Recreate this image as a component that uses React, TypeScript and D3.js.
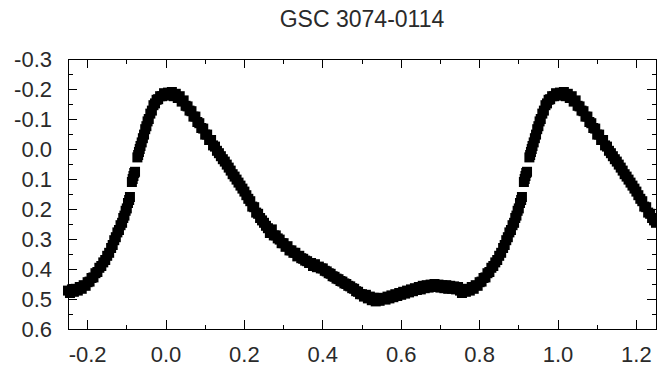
import * as d3 from "d3";

const width = 657;
const height = 369;
const margin = { top: 59, right: 1, bottom: 40, left: 68 };

const title = "GSC 3074-0114";

// one folded cycle: [phase, magnitude]
const maximumBranch: [number, number][] = [
  [0.0, -0.18], [0.005, -0.188], [0.01, -0.178], [0.015, -0.19], [0.02, -0.176],
  [0.025, -0.184], [0.03, -0.17], [0.035, -0.176], [0.04, -0.158], [0.045, -0.162],
  [0.05, -0.144], [0.055, -0.142], [0.06, -0.128], [0.065, -0.126], [0.07, -0.108],
  [0.075, -0.108], [0.08, -0.09], [0.085, -0.086], [0.09, -0.07], [0.095, -0.068],
  [0.1, -0.048], [0.105, -0.048], [0.11, -0.03], [0.115, -0.03], [0.12, -0.012],
  [0.125, -0.008], [0.13, 0.006], [0.135, 0.014], [0.14, 0.024], [0.145, 0.034],
  [0.15, 0.042], [0.155, 0.052], [0.16, 0.062], [0.165, 0.072], [0.17, 0.084],
  [0.175, 0.092], [0.18, 0.102], [0.185, 0.112], [0.19, 0.122], [0.195, 0.132],
  [0.2, 0.142], [0.205, 0.154], [0.21, 0.166], [0.215, 0.174], [0.22, 0.192],
  [0.225, 0.194], [0.23, 0.212], [0.235, 0.216], [0.24, 0.23], [0.245, 0.238],
];

const declineBranch: [number, number][] = [
  [0.25, 0.246], [0.255, 0.256], [0.26, 0.264], [0.265, 0.28], [0.27, 0.268],
  [0.275, 0.288], [0.28, 0.288], [0.285, 0.298], [0.29, 0.302], [0.295, 0.314],
  [0.3, 0.314], [0.305, 0.326], [0.31, 0.324], [0.315, 0.338], [0.32, 0.338],
  [0.325, 0.346], [0.33, 0.346], [0.335, 0.358], [0.34, 0.356], [0.345, 0.364],
  [0.35, 0.366], [0.355, 0.372], [0.36, 0.374], [0.365, 0.38], [0.37, 0.38],
  [0.375, 0.39], [0.38, 0.384], [0.385, 0.394], [0.39, 0.392], [0.395, 0.398],
  [0.4, 0.398], [0.405, 0.406], [0.41, 0.408], [0.415, 0.414], [0.42, 0.416],
  [0.425, 0.424], [0.43, 0.426], [0.435, 0.432], [0.44, 0.434], [0.445, 0.44],
  [0.45, 0.442], [0.455, 0.448], [0.46, 0.45], [0.465, 0.456], [0.47, 0.458],
  [0.475, 0.464], [0.48, 0.466], [0.485, 0.474], [0.49, 0.476], [0.495, 0.484],
  [0.5, 0.484], [0.505, 0.492], [0.51, 0.486], [0.515, 0.498], [0.52, 0.492],
];

const minimumBranch: [number, number][] = [
  [0.525, 0.504], [0.53, 0.496], [0.535, 0.508], [0.54, 0.496], [0.545, 0.506],
  [0.55, 0.498], [0.555, 0.498], [0.56, 0.502], [0.565, 0.492], [0.57, 0.498],
  [0.575, 0.488], [0.58, 0.494], [0.585, 0.484], [0.59, 0.49], [0.595, 0.48],
  [0.6, 0.486], [0.605, 0.476], [0.61, 0.482], [0.615, 0.472], [0.62, 0.478],
  [0.625, 0.468], [0.63, 0.474], [0.635, 0.464], [0.64, 0.47], [0.645, 0.46],
  [0.65, 0.468], [0.655, 0.456], [0.66, 0.464], [0.665, 0.454], [0.67, 0.462],
  [0.675, 0.452], [0.68, 0.46], [0.685, 0.45], [0.69, 0.46], [0.695, 0.452],
  [0.7, 0.462], [0.705, 0.454], [0.71, 0.464], [0.715, 0.454], [0.72, 0.466],
  [0.725, 0.456], [0.73, 0.466], [0.735, 0.458], [0.74, 0.468], [0.745, 0.46],
  [0.75, 0.472], [0.755, 0.48], [0.76, 0.468], [0.765, 0.476], [0.77, 0.466],
  [0.775, 0.472], [0.78, 0.46], [0.785, 0.466], [0.79, 0.454], [0.795, 0.456],
  [0.8, 0.444],
];

const risingBranch: [number, number][] = [
  [0.805, 0.442], [0.81, 0.43], [0.815, 0.428], [0.82, 0.414], [0.825, 0.41],
  [0.83, 0.396], [0.835, 0.39], [0.84, 0.378], [0.845, 0.37], [0.85, 0.356],
  [0.855, 0.346], [0.86, 0.33], [0.864, 0.32], [0.868, 0.304], [0.872, 0.294],
  [0.876, 0.278], [0.88, 0.27], [0.884, 0.254], [0.888, 0.246], [0.891, 0.23],
  [0.894, 0.222], [0.897, 0.206], [0.9, 0.198], [0.903, 0.18], [0.906, 0.17],
  [0.908, 0.16], [0.913, 0.11], [0.915, 0.1], [0.917, 0.09], [0.919, 0.08],
  [0.921, 0.076], [0.927, 0.028], [0.929, 0.02], [0.931, 0.01], [0.933, 0.0],
  [0.935, -0.01], [0.938, -0.022], [0.941, -0.036], [0.944, -0.048], [0.947, -0.066],
  [0.95, -0.076], [0.953, -0.092], [0.956, -0.1], [0.96, -0.118], [0.964, -0.128],
  [0.968, -0.146], [0.972, -0.152], [0.976, -0.164], [0.98, -0.166], [0.985, -0.176],
  [0.99, -0.176], [0.995, -0.186],
];

const xMajorTicks = [-0.2, 0.0, 0.2, 0.4, 0.6, 0.8, 1.0, 1.2];
const xMinorTicks = [-0.1, 0.1, 0.3, 0.5, 0.7, 0.9, 1.1];
const yMajorTicks = [-0.3, -0.2, -0.1, 0.0, 0.1, 0.2, 0.3, 0.4, 0.5, 0.6];
const yMinorTicks = [-0.25, -0.15, -0.05, 0.05, 0.15, 0.25, 0.35, 0.45, 0.55];

const phaseDomain: [number, number] = [-0.25, 1.25];
const magDomain: [number, number] = [-0.3, 0.6];

export default function App() {
  const x = d3
    .scaleLinear()
    .domain(phaseDomain)
    .range([margin.left, width - margin.right]);
  const y = d3
    .scaleLinear()
    .domain(magDomain)
    .range([margin.top, height - margin.bottom]);

  const cycle = [...maximumBranch, ...declineBranch, ...minimumBranch, ...risingBranch];
  // phase plot: every observation shown at phase-1, phase, phase+1 inside the window
  const points = cycle.flatMap(([p, m]) =>
    [p - 1, p, p + 1]
      .filter((q) => q >= phaseDomain[0] && q <= phaseDomain[1])
      .map((q) => ({ phase: q, mag: m })),
  );

  const x0 = margin.left;
  const x1 = width - margin.right;
  const y0 = margin.top;
  const y1 = height - margin.bottom;
  const major = 9;
  const minor = 4.5;
  const size = 10;
  // plain hyphen minus, like the original plot
  const fmt = (v: number) => d3.format(".1f")(v).replace("\u2212", "-");
  const fontFamily = "'Liberation Sans', Arial, Helvetica, sans-serif";

  return (
    <svg
      width={width}
      height={height}
      style={{ position: "absolute", left: 0, top: 0, background: "#fff" }}
      fontFamily={fontFamily}
    >
      <rect width={width} height={height} fill="#fff" />
      <text x={(x0 + x1) / 2} y={27} textAnchor="middle" fontSize={23} fill="#2a2a2a">
        {title}
      </text>

      <g className="points" fill="#000">
        {points.map((d, i) => (
          <rect
            key={i}
            x={x(d.phase) - size / 2}
            y={y(d.mag) - size / 2}
            width={size}
            height={size}
          />
        ))}
      </g>

      <g className="ticks" stroke="#000" strokeWidth={1} shapeRendering="crispEdges">
        {xMajorTicks.map((t) => (
          <g key={`xM${t}`}>
            <line x1={x(t)} x2={x(t)} y1={y1} y2={y1 - major} />
            <line x1={x(t)} x2={x(t)} y1={y0} y2={y0 + major} />
          </g>
        ))}
        {xMinorTicks.map((t) => (
          <g key={`xm${t}`}>
            <line x1={x(t)} x2={x(t)} y1={y1} y2={y1 - minor} />
            <line x1={x(t)} x2={x(t)} y1={y0} y2={y0 + minor} />
          </g>
        ))}
        {yMajorTicks.map((t) => (
          <g key={`yM${t}`}>
            <line x1={x0} x2={x0 + major} y1={y(t)} y2={y(t)} />
            <line x1={x1} x2={x1 - major} y1={y(t)} y2={y(t)} />
          </g>
        ))}
        {yMinorTicks.map((t) => (
          <g key={`ym${t}`}>
            <line x1={x0} x2={x0 + minor} y1={y(t)} y2={y(t)} />
            <line x1={x1} x2={x1 - minor} y1={y(t)} y2={y(t)} />
          </g>
        ))}
        <rect x={x0} y={y0} width={x1 - x0} height={y1 - y0} fill="none" />
      </g>

      <g className="x-labels" fontSize={22} fill="#2a2a2a" textAnchor="middle">
        {xMajorTicks.map((t) => (
          <text key={t} x={x(t)} y={y1 + 33}>
            {fmt(t)}
          </text>
        ))}
      </g>
      <g className="y-labels" fontSize={22} fill="#2a2a2a" textAnchor="end">
        {yMajorTicks.map((t) => (
          <text key={t} x={x0 - 16} y={y(t) + 8}>
            {fmt(t)}
          </text>
        ))}
      </g>
    </svg>
  );
}
